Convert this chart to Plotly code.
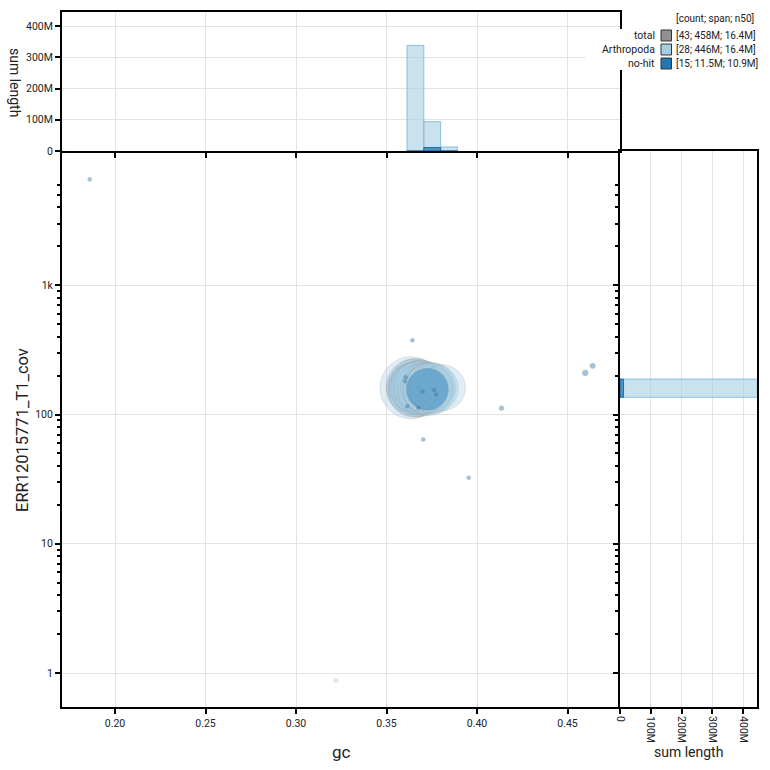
import numpy as np
import plotly.graph_objects as go

# ---------------- data ----------------
# Arthropoda contigs: gc, coverage, length (bp)
arth_gc = [0.3635, 0.3660, 0.3670, 0.3648, 0.3682, 0.3656, 0.3690, 0.3664, 0.3675, 0.3643,
           0.3698, 0.3668, 0.3652, 0.3686, 0.3660, 0.3696, 0.3678, 0.3647, 0.3694, 0.3672,
           0.3722, 0.3735, 0.3745, 0.3728, 0.3760, 0.3740, 0.3810, 0.3220]
arth_cov = [161, 163, 158, 166, 160, 155, 164, 170, 152, 158,
            157, 165, 150, 168, 160, 161, 155, 162, 150, 167,
            160, 155, 162, 158, 159, 165, 161, 0.88]
arth_len = [24.0e6, 19.5e6, 18.6e6, 18.2e6, 17.9e6, 17.6e6, 17.3e6, 17.1e6, 16.9e6, 16.7e6,
            16.5e6, 16.4e6, 16.2e6, 16.0e6, 15.7e6, 15.4e6, 15.0e6, 14.4e6, 13.5e6, 14.9e6,
            16.8e6, 16.4e6, 16.0e6, 15.6e6, 15.2e6, 14.0e6, 13.0e6, 0.03e6]

# no-hit contigs
nohit_gc = [0.3726, 0.1860, 0.3643, 0.3703, 0.3954, 0.4135, 0.4598, 0.4639,
            0.3606, 0.3602, 0.3615, 0.3763, 0.3774, 0.3676, 0.3700]
nohit_cov = [157, 6600, 376, 64, 32.4, 112, 210, 238,
             194, 181, 116, 155, 143, 113, 150]
nohit_len = [10.9e6, 0.06e6, 0.075e6, 0.075e6, 0.07e6, 0.14e6, 0.20e6, 0.175e6,
             0.10e6, 0.09e6, 0.10e6, 0.08e6, 0.08e6, 0.09e6, 0.06e6]

# gc histogram (top panel): bin centres, bin width, summed length
gc_bin_centres = [0.36595, 0.37525, 0.38455]
gc_bin_width = 0.0093
arth_gc_hist = [338e6, 94e6, 13e6]
nohit_gc_hist = [0, 11.2e6, 0]

# coverage histogram (right panel): bin edges in coverage, summed length
cov_bin_lo = [136]
cov_bin_hi = [188]
arth_cov_hist = [446e6]
nohit_cov_hist = [11.5e6]

# axis ticks
gc_ticks = [0.20, 0.25, 0.30, 0.35, 0.40, 0.45]
cov_ticks = [1, 10, 100, 1000]
cov_ticktext = ["1", "10", "100", "1k"]
len_ticks = [0, 100e6, 200e6, 300e6, 400e6]
len_ticktext = ["0", "100M", "200M", "300M", "400M"]

legend_names = ["total", "Arthropoda", "no-hit"]
legend_stats = ["[43; 458M; 16.4M]", "[28; 446M; 16.4M]", "[15; 11.5M; 10.9M]"]
legend_title = "[count; span; n50]"

# ---------------- styling ----------------
W = H = 770
ARTH = "#a6cee3"
NOHIT = "#1f78b4"
FONT = "Roboto"
GRID = "#e3e3e3"

def px_x(p):
    return p / W

def px_y(p):
    return 1 - p / H

X0, X1, X2 = 62, 620, 757     # main left, main right/right-hist left, right-hist right
Y0, Y1, Y2 = 12, 151, 707     # top-hist top, main top, main bottom

gc_range = [0.1707, 0.479]
logy_range = [-0.263, 4.039]
len_range = [0, 445e6]

minor_vals = []
for d in [1, 10, 100, 1000]:
    for k in range(2, 10):
        v = k * d
        if v <= 6000:
            minor_vals.append(v)

max_len = max(arth_len)
sizeref = 2 * max_len / (62 ** 2)

fig = go.Figure()

# main scatter
fig.add_trace(go.Scatter(
    x=arth_gc, y=arth_cov, mode="markers", xaxis="x", yaxis="y",
    marker=dict(size=arth_len, sizemode="area", sizeref=sizeref, sizemin=2,
                color="rgba(166,206,227,0.5)",
                line=dict(color="rgba(150,150,150,0.45)", width=0.8)),
    showlegend=False, hoverinfo="skip"))
fig.add_trace(go.Scatter(
    x=nohit_gc, y=nohit_cov, mode="markers", xaxis="x", yaxis="y",
    marker=dict(size=nohit_len, sizemode="area", sizeref=sizeref, sizemin=2,
                color="rgba(31,120,180,0.6)",
                line=dict(color="rgba(120,120,120,0.4)", width=0.8)),
    showlegend=False, hoverinfo="skip"))

# top histogram
fig.add_trace(go.Bar(
    x=gc_bin_centres, y=arth_gc_hist, width=gc_bin_width, xaxis="x2", yaxis="y2",
    marker=dict(color="rgba(166,206,227,0.6)", line=dict(color="rgba(130,185,218,0.9)", width=1)),
    showlegend=False, hoverinfo="skip"))
fig.add_trace(go.Bar(
    x=gc_bin_centres, y=nohit_gc_hist, width=gc_bin_width, xaxis="x2", yaxis="y2",
    marker=dict(color="rgba(31,120,180,0.75)", line=dict(color="rgba(31,100,160,0.9)", width=1)),
    showlegend=False, hoverinfo="skip"))

# right histogram (y in log10 units)
cov_centres = [(np.log10(a) + np.log10(b)) / 2 for a, b in zip(cov_bin_lo, cov_bin_hi)]
cov_widths = [np.log10(b) - np.log10(a) for a, b in zip(cov_bin_lo, cov_bin_hi)]
fig.add_trace(go.Bar(
    y=cov_centres, x=arth_cov_hist, width=cov_widths, orientation="h", xaxis="x3", yaxis="y3",
    marker=dict(color="rgba(166,206,227,0.6)", line=dict(color="rgba(130,185,218,0.9)", width=1)),
    showlegend=False, hoverinfo="skip"))
fig.add_trace(go.Bar(
    y=cov_centres, x=nohit_cov_hist, width=cov_widths, orientation="h", xaxis="x3", yaxis="y3",
    marker=dict(color="rgba(31,120,180,0.75)", line=dict(color="rgba(31,100,160,0.9)", width=1)),
    showlegend=False, hoverinfo="skip"))

tickfont = dict(family=FONT, size=10.5, color="#222")
common = dict(showline=True, linecolor="black", linewidth=2, automargin=False,
              ticks="outside", ticklen=5, tickcolor="black", tickwidth=1.5,
              showgrid=True, gridcolor=GRID, zeroline=False)

fig.update_layout(
    width=W, height=H, margin=dict(l=0, r=0, t=0, b=0, autoexpand=False),
    paper_bgcolor="white", plot_bgcolor="white", barmode="overlay",
    font=dict(family=FONT, color="#222"),
    xaxis=dict(domain=[px_x(X0), px_x(X1)], range=gc_range, tickvals=gc_ticks,
               ticktext=[f"{v:.2f}" for v in gc_ticks], tickfont=tickfont,
               anchor="y", mirror=False, **common),
    yaxis=dict(domain=[px_y(Y2), px_y(Y1)], type="log", range=logy_range,
               tickvals=cov_ticks, ticktext=cov_ticktext, tickfont=tickfont, anchor="x",
               mirror=False,
               minor=dict(tickvals=minor_vals, ticks="outside", ticklen=3,
                          tickcolor="black", showgrid=False), **common),
    xaxis2=dict(domain=[px_x(X0), px_x(X1)], range=gc_range, tickvals=gc_ticks,
                showticklabels=False, anchor="y2", mirror=True, **common),
    yaxis2=dict(domain=[px_y(Y1), px_y(Y0)], range=len_range, tickvals=len_ticks,
                ticktext=len_ticktext, tickfont=tickfont, anchor="x2", mirror=True, **common),
    xaxis3=dict(domain=[px_x(X1), px_x(X2)], range=len_range, tickvals=len_ticks,
                ticktext=len_ticktext, tickangle=90, tickfont=tickfont, anchor="y3",
                mirror=True, **common),
    yaxis3=dict(domain=[px_y(Y2), px_y(Y1)], range=logy_range,
                tickvals=[np.log10(v) for v in cov_ticks], showticklabels=False,
                anchor="x3", mirror=True,
                minor=dict(tickvals=[float(np.log10(v)) for v in minor_vals], ticks="outside",
                           ticklen=3, tickcolor="black", showgrid=False), **common),
)

def note(text, x, y, size, xanchor="center", angle=0):
    return dict(text=text, x=px_x(x), y=px_y(y), xref="paper", yref="paper",
                xanchor=xanchor, yanchor="middle", showarrow=False, textangle=angle,
                font=dict(family=FONT, size=size, color="#222"))

ann = [
    note("gc", (X0 + X1) / 2, 752, 17),
    note("ERR12015771_T1_cov", 22, 430, 16.5, angle=-90),
    note("sum length", 15, 82, 14, angle=90),
    note("sum length", 688, 752, 14),
    note(legend_title, 674, 19, 10, xanchor="left"),
]

shapes = []
# white legend backdrop
shapes.append(dict(type="rect", xref="paper", yref="paper", x0=px_x(586), x1=1.0,
                   y0=px_y(70), y1=px_y(29), fillcolor="white", line=dict(width=0), layer="above"))

leg_cols = ["#909090", ARTH, NOHIT]
leg_y = [35.5, 49.5, 63.5]
for name, stat, col, yy in zip(legend_names, legend_stats, leg_cols, leg_y):
    ann.append(note(name, 657, yy, 10.5, xanchor="right"))
    ann.append(note(stat, 674, yy, 10, xanchor="left"))
    shapes.append(dict(type="rect", xref="paper", yref="paper", x0=px_x(661), x1=px_x(671.5),
                       y0=px_y(yy + 5.5), y1=px_y(yy - 5.5), fillcolor=col,
                       line=dict(color="#333", width=1), layer="above"))

fig.update_layout(annotations=ann, shapes=shapes)
fig.write_html("out.html")
